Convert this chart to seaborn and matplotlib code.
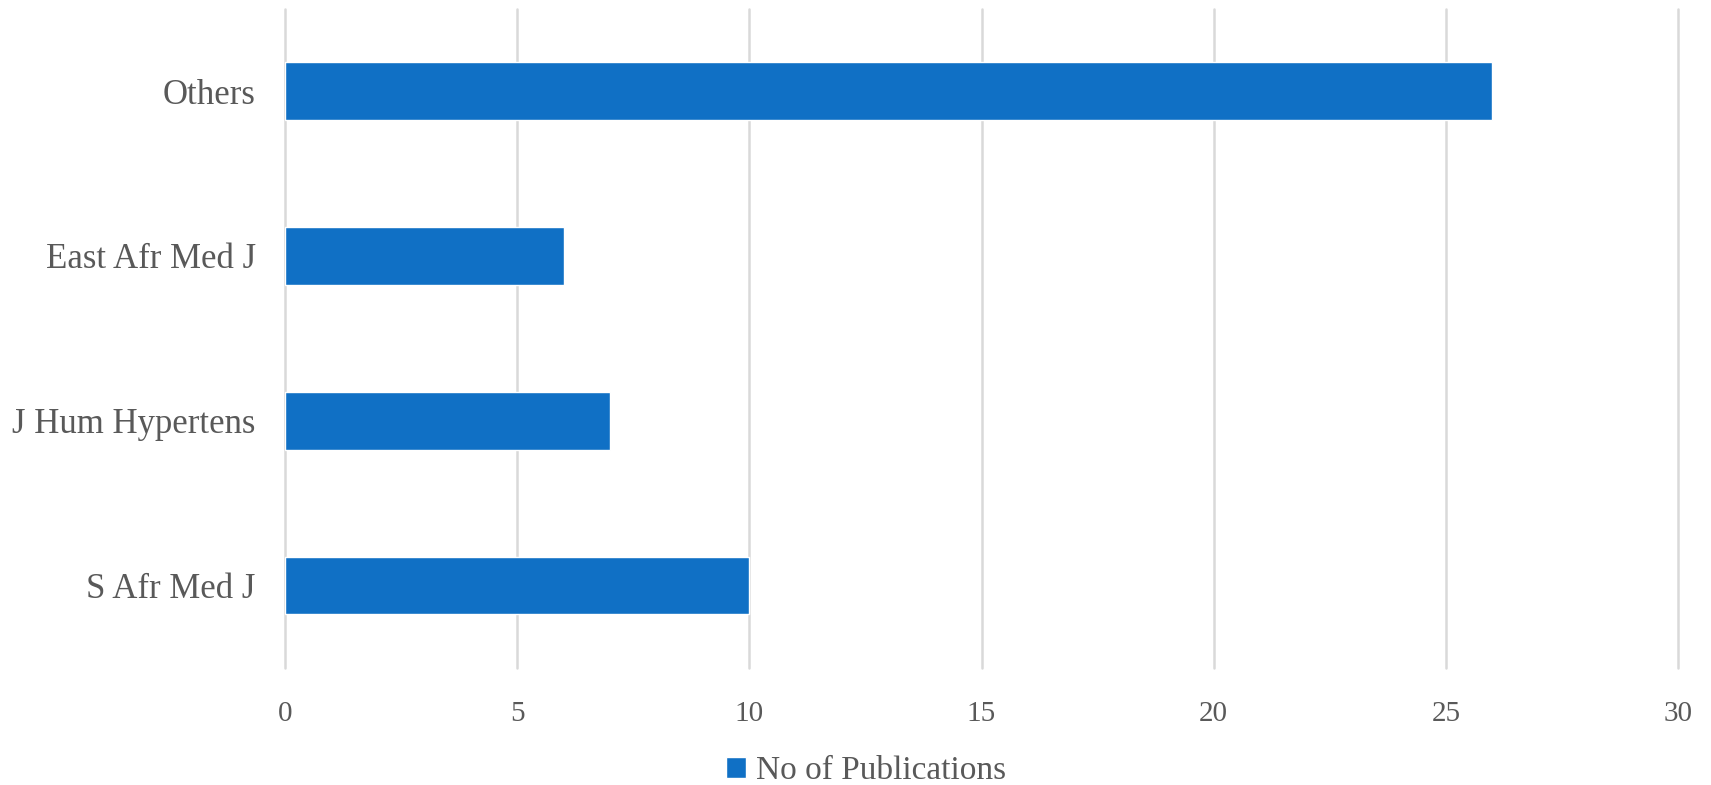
import pandas as pd
import matplotlib.pyplot as plt
import seaborn as sns

# data
journals = ['Others', 'East Afr Med J', 'J Hum Hypertens', 'S Afr Med J']
publications = [26, 6, 7, 10]

df = pd.DataFrame({'journal': journals, 'count': publications})

sns.set_style('white')
plt.rcParams['font.family'] = ['Liberation Serif', 'DejaVu Serif']
text_grey = '#595959'

fig = plt.figure(figsize=(17.11, 7.85), dpi=100)
ax = fig.add_axes([0.1665, 0.149, 0.8143, 0.84])

sns.barplot(data=df, x='count', y='journal', orient='h', color='#1070C5',
            width=0.35, saturation=1, label='No of Publications', ax=ax)

ax.set_xlim(0, 30)
ax.set_ylim(3.5, -0.5)
ax.set_xticks(range(0, 31, 5))
ax.grid(axis='x', color='#D9D9D9', linewidth=1.8)
for gl in ax.get_xgridlines():
    gl.set_clip_on(False)
ax.set_axisbelow(True)
for s in ax.spines.values():
    s.set_visible(False)
ax.set_xlabel('')
ax.set_ylabel('')
ax.tick_params(axis='y', length=0, pad=21, labelsize=25, labelcolor=text_grey)
ax.tick_params(axis='x', length=0, pad=24, labelsize=21, labelcolor=text_grey)

if ax.legend_:
    ax.legend_.remove()
handles, labels = ax.get_legend_handles_labels()
fig.legend(handles, labels, loc='center', bbox_to_anchor=(0.506, 0.018),
           frameon=False, fontsize=24, labelcolor=text_grey,
           handlelength=0.6, handleheight=0.6, handletextpad=0.3,
           borderpad=0)

fig.savefig('out.png', dpi=100)
